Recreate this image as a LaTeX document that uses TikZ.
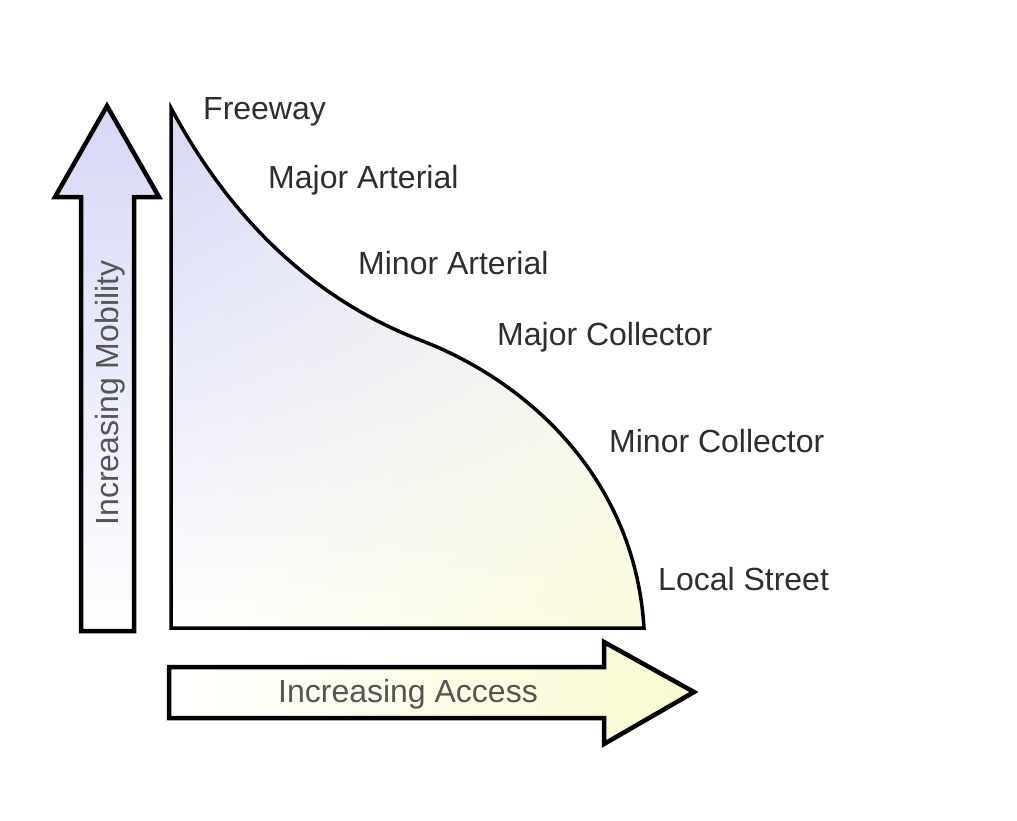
\documentclass[tikz,border=0pt]{standalone}
\usepackage{fontspec}
\setmainfont{Liberation Sans}
\usetikzlibrary{shadings}
\definecolor{lav}{HTML}{D6D8F6}
\definecolor{lavlight}{HTML}{F4F4FC}
\definecolor{yel}{HTML}{FBFBDC}
\definecolor{yelarrow}{HTML}{FAFAD0}
\definecolor{txt}{HTML}{2E2E2E}
\definecolor{txtgray}{HTML}{555555}
\begin{document}
\begin{tikzpicture}[x=1pt,y=-1pt,
  lbl/.style={anchor=west,inner sep=0pt,text=txt,font=\fontsize{32}{38}\selectfont},
  arrlbl/.style={inner sep=0pt,text=txtgray,font=\fontsize{32}{38}\selectfont},
  outline/.style={draw=black,line width=4.5pt,line join=miter}]
\useasboundingbox (0,0) rectangle (1017,820);
\fill[white] (0,0) rectangle (1017,820);
% main area
\path[shade,upper left=lav,upper right=lavlight,lower left=white,lower right=yel]
  (171,628) -- (171,108) .. controls (215,190) and (290,290) .. (420,340)
  .. controls (530,382) and (635,480) .. (644,628) -- cycle;
\draw[draw=black,line width=3.5pt,line join=miter]
  (171,628) -- (171,108) .. controls (215,190) and (290,290) .. (420,340)
  .. controls (530,382) and (635,480) .. (644,628) -- cycle;
% vertical arrow
\shade[top color=lav,bottom color=white]
  (81,631) -- (81,197) -- (55,197) -- (107,106) -- (159,197) -- (134,197) -- (134,631) -- cycle;
\draw[outline] (81,631) -- (81,197) -- (55,197) -- (107,106) -- (159,197) -- (134,197) -- (134,631) -- cycle;
% horizontal arrow
\shade[left color=white,right color=yelarrow]
  (169,667) -- (604,667) -- (604,642) -- (694,692) -- (604,744) -- (604,718) -- (169,718) -- cycle;
\draw[outline] (169,667) -- (604,667) -- (604,642) -- (694,692) -- (604,744) -- (604,718) -- (169,718) -- cycle;
% labels
\node[lbl] (fw) at (203,112) {Freeway};
\node[lbl] (maa) at (268,180) {Major Arterial};
\node[lbl] (mia) at (358,263) {Minor Arterial};
\node[lbl] (mac) at (497,337) {Major Collector};
\node[lbl] (mic) at (609,441) {Minor Collector};
\node[lbl] (ls) at (658,579) {Local Street};
\node[arrlbl] (acc) at (408,694) {Increasing Access};
\node[arrlbl,rotate=90] (mob) at (110,393) {Increasing Mobility};
\end{tikzpicture}
\end{document}
